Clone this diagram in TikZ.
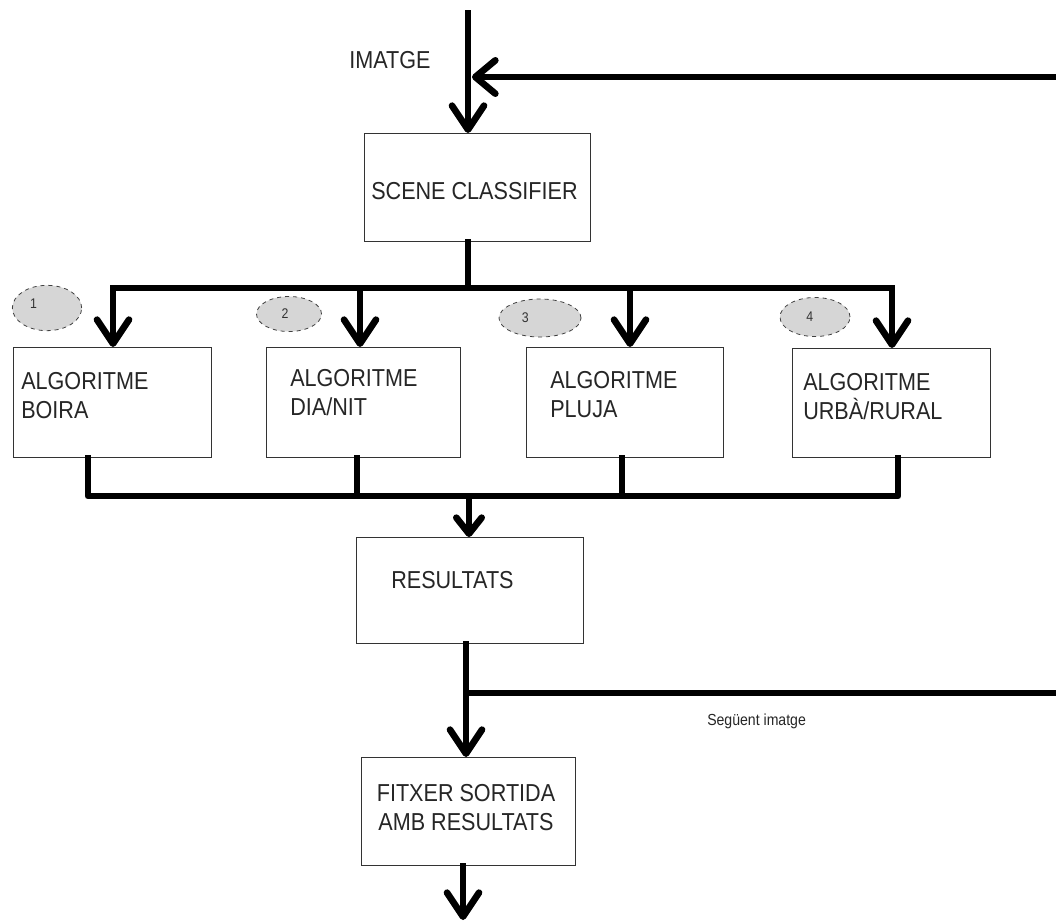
\documentclass[tikz,border=0pt]{standalone}
\usepackage{fontspec}
\setmainfont{Liberation Sans}[FakeStretch=0.88]
\usetikzlibrary{arrows.meta,shapes.geometric}
\newcommand\mybigfont{\fontsize{18.4pt}{21.75pt}\selectfont}
\newcommand\mysmallfont{\fontsize{12pt}{14pt}\selectfont}
\newcommand\mydigitfont{\fontsize{10.5pt}{12pt}\selectfont}
\begin{document}
\begin{tikzpicture}[x=0.75pt,y=-0.75pt,
  box/.style={draw=black!80, line width=1.1pt, inner sep=0pt, anchor=north west, fill=white},
  txt/.style={font=\mybigfont, text=black!85, inner sep=0pt},
  wire/.style={line width=5pt, line cap=rect, line join=round},
  tipA/.style={-{Straight Barb[length=18pt,width=24pt,round]}},
  tipF/.style={-{Straight Barb[length=15pt,width=25pt,round]}},
  tipS/.style={-{Straight Barb[length=12pt,width=19pt,round]}},
  oval/.style={ellipse, draw=black!75, dashed, line width=0.6pt, fill=black!16, inner sep=0pt},
  digit/.style={font=\mydigitfont, text=black!80}
]
\useasboundingbox[fill=white] (0,0) rectangle (1056,922);

% boxes
\node[box, minimum width=169.5pt, minimum height=81pt] (sc) at (364,133) {};
\node[box, minimum width=148.5pt, minimum height=82.5pt] (a1) at (13,347) {};
\node[box, minimum width=145.5pt, minimum height=82.5pt] (a2) at (266,347) {};
\node[box, minimum width=147.75pt, minimum height=82.5pt] (a3) at (526,347) {};
\node[box, minimum width=148.5pt, minimum height=81.75pt] (a4) at (792,348) {};
\node[box, minimum width=170.25pt, minimum height=79.5pt] (res) at (356,537) {};
\node[box, minimum width=160.5pt, minimum height=81pt] (fit) at (361,757) {};

% texts
\node[txt, anchor=base west] (timg) at (349,68) {IMATGE};
\node[txt, anchor=base west] (tsc) at (371,199) {SCENE CLASSIFIER};
\node[txt, anchor=north west, align=left] (t1) at (21,372) {ALGORITME\\BOIRA};
\node[txt, anchor=north west, align=left] (t2) at (290,369) {ALGORITME\\DIA/NIT};
\node[txt, anchor=north west, align=left] (t3) at (550,371) {ALGORITME\\PLUJA};
\node[txt, anchor=north west, align=left] (t4) at (803,373) {ALGORITME\\URBÀ/RURAL};
\node[txt, anchor=base west] (tres) at (391,588) {RESULTATS};
\node[txt, anchor=north, align=center] (tfit) at (466,784) {FITXER SORTIDA\\AMB RESULTATS};
\node[font=\mysmallfont, text=black!85, inner sep=0pt, anchor=base west] (tnext) at (707,725) {Següent imatge};

% ovals
\node[oval, minimum width=52pt, minimum height=34pt, label={[digit,xshift=-10pt,yshift=3pt]center:1}] (e1) at (47,308) {};
\node[oval, minimum width=48.75pt, minimum height=26.25pt, label={[digit,xshift=-3pt]center:2}] (e2) at (289,314) {};
\node[oval, minimum width=61.5pt, minimum height=28.5pt, label={[digit,xshift=-11pt]center:3}] (e3) at (540,318) {};
\node[oval, minimum width=52.5pt, minimum height=29.25pt, label={[digit,xshift=-4pt]center:4}] (e4) at (815,317) {};

% coordinates
\coordinate (in) at (468,13);
\coordinate (fb) at (1056,77);
\coordinate (fbend) at (472,77);
\coordinate (b1) at (113,288);
\coordinate (b2) at (360,288);
\coordinate (b3) at (630,288);
\coordinate (b4) at (892,288);
\coordinate (d1) at (88,496);
\coordinate (d2) at (357,496);
\coordinate (d3) at (622,496);
\coordinate (d4) at (898,496);
\coordinate (m) at (469,496);
\coordinate (r) at (466,693);
\coordinate (nx) at (1056,693);
\coordinate (out) at (463,920);

% connectors
\draw[wire, tipA] (in) -- (in |- sc.north);
\draw[wire, tipF] (fb) -- (fbend);
\draw[wire] (in |- sc.south) -- (in |- b1);
\draw[wire] (b1) -- (b4);
\draw[wire, tipA] (b1) -- (b1 |- a1.north);
\draw[wire, tipA] (b2) -- (b2 |- a2.north);
\draw[wire, tipA] (b3) -- (b3 |- a3.north);
\draw[wire, tipA] (b4) -- (b4 |- a4.north);
\draw[wire] (d1 |- a1.south) -- (d1) -- (d4) -- (d4 |- a4.south);
\draw[wire] (d2 |- a2.south) -- (d2);
\draw[wire] (d3 |- a3.south) -- (d3);
\draw[wire, tipS] (m) -- (m |- res.north);
\draw[wire, tipA] (r |- res.south) -- (r |- fit.north);
\draw[wire] (r) -- (nx);
\draw[wire, tipA] (out |- fit.south) -- (out);
\end{tikzpicture}
\end{document}
